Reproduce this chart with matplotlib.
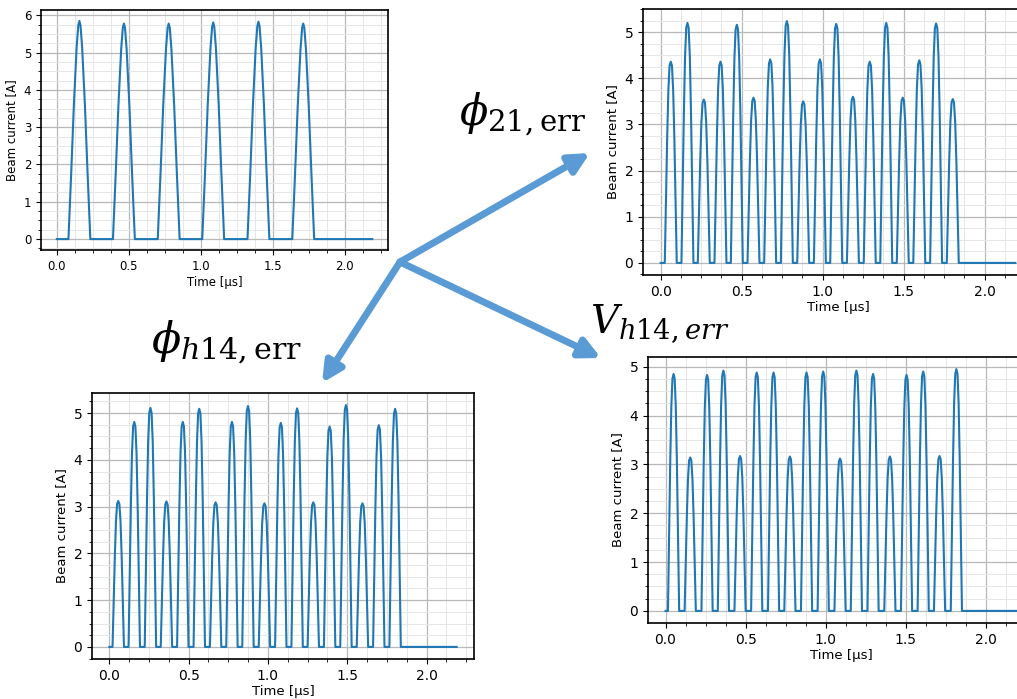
import numpy as np
import matplotlib
matplotlib.use('Agg')
import matplotlib.pyplot as plt
from matplotlib.ticker import AutoMinorLocator

plt.rcParams['mathtext.fontset'] = 'dejavuserif'

# pulse centres [us] and peak currents [A]
nominal_t = [0.157, 0.466, 0.777, 1.086, 1.400, 1.711]
nominal_i = [5.85, 5.78, 5.78, 5.81, 5.83, 5.78]

phi21_t = [0.062, 0.165, 0.266, 0.369, 0.470, 0.573, 0.676, 0.779, 0.880,
           0.983, 1.084, 1.187, 1.291, 1.393, 1.495, 1.597, 1.701, 1.804]
phi21_i = [4.36, 5.20, 3.54, 4.36, 5.16, 3.58, 4.41, 5.24, 3.50,
           4.41, 5.18, 3.60, 4.36, 5.20, 3.58, 4.39, 5.19, 3.55]

phih14_t = [0.056, 0.157, 0.259, 0.360, 0.463, 0.567, 0.670, 0.773, 0.874,
            0.978, 1.081, 1.184, 1.286, 1.389, 1.492, 1.596, 1.699, 1.802]
phih14_i = [3.12, 4.81, 5.11, 3.11, 4.81, 5.09, 3.09, 4.81, 5.15,
            3.07, 4.79, 5.10, 3.09, 4.71, 5.17, 3.07, 4.74, 5.09]

vh14_t = [0.050, 0.154, 0.259, 0.361, 0.465, 0.569, 0.674, 0.776, 0.880,
          0.984, 1.089, 1.191, 1.295, 1.400, 1.504, 1.608, 1.710, 1.815]
vh14_i = [4.85, 3.14, 4.83, 4.92, 3.17, 4.88, 4.88, 3.16, 4.88,
          4.90, 3.12, 4.92, 4.85, 3.16, 4.83, 4.90, 3.17, 4.95]

t_end = 2.19

# normalised pulse outline (offset -1..1 -> relative height)
wide_u = [-1, -0.75, -0.5, -0.25, -0.1, 0, 0.1, 0.25, 0.5, 0.75, 1]
wide_s = [0, 0.30, 0.62, 0.88, 0.98, 1.0, 0.98, 0.88, 0.62, 0.30, 0]
narrow_u = [-1, -0.8, -0.6, -0.4, -0.2, 0, 0.2, 0.4, 0.6, 0.8, 1]
narrow_s = [0, 0.30, 0.62, 0.86, 0.98, 1.0, 0.98, 0.86, 0.62, 0.30, 0]


def pulse_train(centres, peaks, half_width, u, s):
    t = [0.0]
    y = [0.0]
    for c, p in zip(centres, peaks):
        t += [c + k * half_width for k in u]
        y += [p * k for k in s]
    t.append(t_end)
    y.append(0.0)
    return t, y


def draw(ax, t, y, tick_fs, label_fs):
    ax.plot(t, y, color='#1f77b4', lw=1.5)
    ax.xaxis.set_minor_locator(AutoMinorLocator(4))
    ax.yaxis.set_minor_locator(AutoMinorLocator(4))
    ax.grid(which='major', color='#b8b8b8', lw=0.9)
    ax.grid(which='minor', color='#e6e6e6', lw=0.7)
    ax.set_axisbelow(True)
    ax.tick_params(labelsize=tick_fs)
    ax.set_xlabel('Time [µs]', fontsize=label_fs, labelpad=2)
    ax.set_ylabel('Beam current [A]', fontsize=label_fs, labelpad=4)
    for sp in ax.spines.values():
        sp.set_linewidth(1.2)


W, H = 1017, 699
fig = plt.figure(figsize=(W / 100, H / 100), dpi=100)


def box(l, r, t, b):
    return [l / W, 1 - b / H, (r - l) / W, (b - t) / H]


ax1 = fig.add_axes(box(41, 388, 10, 250))
ax2 = fig.add_axes(box(643, 1033, 9, 275))
ax3 = fig.add_axes(box(92, 474, 393, 659))
ax4 = fig.add_axes(box(648, 1034, 357, 623))

draw(ax1, *pulse_train(nominal_t, nominal_i, 0.076, wide_u, wide_s), 8.5, 8.5)
draw(ax2, *pulse_train(phi21_t, phi21_i, 0.037, narrow_u, narrow_s), 10, 9.5)
draw(ax3, *pulse_train(phih14_t, phih14_i, 0.036, narrow_u, narrow_s), 10, 9.5)
draw(ax4, *pulse_train(vh14_t, vh14_i, 0.035, narrow_u, narrow_s), 10, 9.5)

# overlay for arrows and labels, in pixel coordinates
ov = fig.add_axes([0, 0, 1, 1], facecolor='none')
ov.set_xlim(0, W)
ov.set_ylim(H, 0)
ov.axis('off')

arrow_col = '#5b9bd5'
origin = (400, 262)
for tip in [(590, 153), (601, 358), (322, 383)]:
    ov.annotate('', xy=tip, xytext=origin,
                arrowprops=dict(arrowstyle='-|>', color=arrow_col, lw=5,
                                mutation_scale=30, shrinkA=0, shrinkB=0))

ov.text(459, 126, r'$\phi_{21,\mathrm{err}}$', fontsize=30, ha='left', va='baseline')
ov.text(151, 354, r'$\phi_{h14,\mathrm{err}}$', fontsize=31, ha='left', va='baseline')
ov.text(590, 333, r'$V_{h14,err}$', fontsize=28, ha='left', va='baseline')

fig.savefig('out.png', dpi=100)
